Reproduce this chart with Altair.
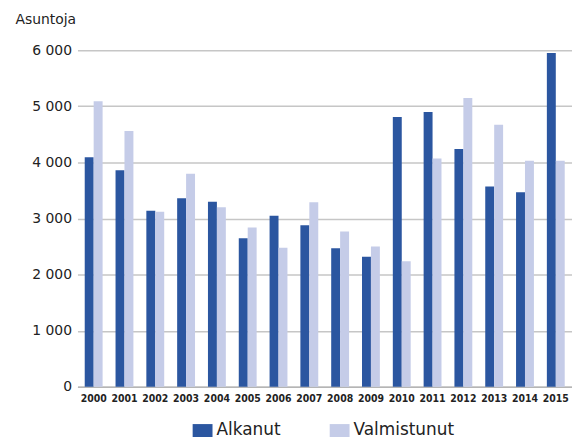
import altair as alt
import pandas as pd

years = [str(y) for y in range(2000, 2016)]
alkanut = [4090, 3860, 3140, 3360, 3300, 2650, 3050, 2880, 2470, 2320, 4810, 4900, 4240, 3570, 3470, 5950]
valmistunut = [5090, 4560, 3120, 3800, 3200, 2840, 2480, 3290, 2770, 2500, 2240, 4070, 5150, 4670, 4030, 4030]
series = ["Alkanut", "Valmistunut"]
colors = ["#2B56A0", "#C5CCE8"]
y_ticks = [0, 1000, 2000, 3000, 4000, 5000, 6000]

rows = []
for i, yr in enumerate(years):
    rows.append({"Vuosi": yr, "Sarja": series[0], "Arvo": alkanut[i]})
    rows.append({"Vuosi": yr, "Sarja": series[1], "Arvo": valmistunut[i]})
df = pd.DataFrame(rows)

rect_path = "M-1,-0.65H1V0.65H-1Z"

chart = alt.Chart(df).mark_bar().encode(
    x=alt.X("Vuosi:N", sort=years,
            scale=alt.Scale(paddingInner=0.42, paddingOuter=0.236),
            axis=alt.Axis(title=None, labelAngle=0, labelFont="DejaVu Sans Condensed",
                          labelFontWeight="bold", labelFontSize=10.5, labelColor="#222222",
                          ticks=False, domain=True, domainColor="#b5b5b5", domainWidth=1.5,
                          labelPadding=7, grid=False)),
    xOffset=alt.XOffset("Sarja:N", sort=series),
    y=alt.Y("Arvo:Q", scale=alt.Scale(domain=[0, 6000], nice=False),
            axis=alt.Axis(title="Asuntoja", titleAngle=0, titleAlign="left",
                          titleBaseline="alphabetic", titleX=-63, titleY=-27,
                          titleFont="DejaVu Sans", titleFontSize=14, titleFontWeight="normal",
                          titleColor="#222222",
                          values=y_ticks,
                          labelExpr="replace(format(datum.value, ','), ',', ' ')",
                          labelFont="DejaVu Sans", labelFontSize=14, labelColor="#222222",
                          labelPadding=6, ticks=False, domain=False,
                          grid=True, gridColor="#c6c6c6", gridWidth=1.5)),
    color=alt.Color("Sarja:N", sort=series,
                    scale=alt.Scale(domain=series, range=colors),
                    legend=alt.Legend(title=None, orient="none", direction="horizontal",
                                      legendX=116, legendY=373,
                                      symbolType=rect_path, symbolSize=400,
                                      symbolStrokeWidth=0, symbolOpacity=1,
                                      labelFont="DejaVu Sans", labelFontSize=17,
                                      labelColor="#222222", labelOffset=4,
                                      columnPadding=49, labelLimit=200)),
).properties(
    width=498, height=339,
    padding={"left": 78, "top": 49, "right": 0, "bottom": 53},
    autosize="none",
).configure_view(stroke=None)

chart.save("out.html", embed_options={"renderer": "svg", "actions": False})
